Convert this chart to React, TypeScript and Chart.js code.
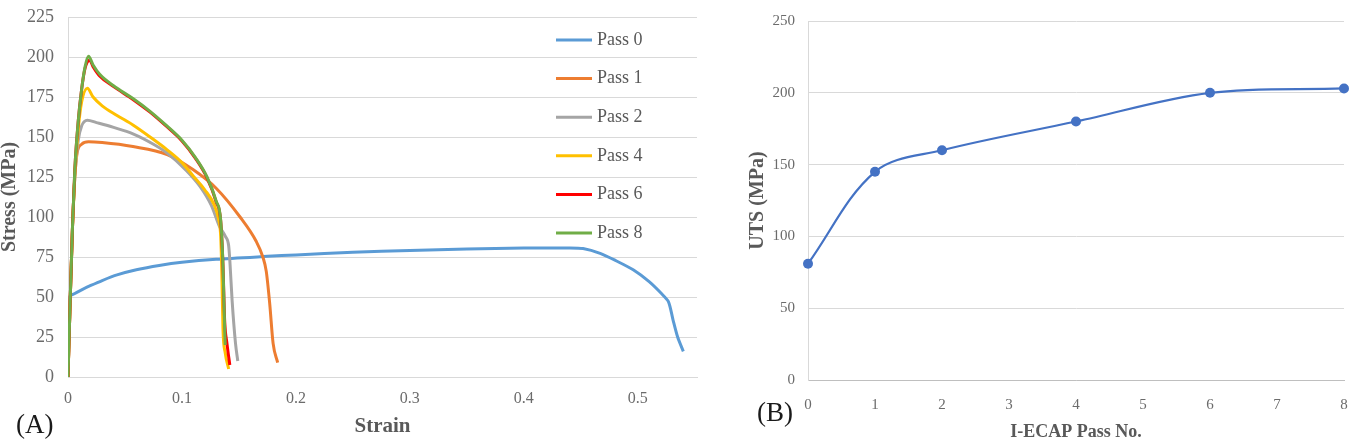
import React, { useEffect, useRef } from "react";
import { Chart, registerables } from "chart.js";

Chart.register(...registerables);

const FONT = "'Liberation Serif', 'Times New Roman', serif";
const TICK_COLOR = "#6b6b6b";
const TITLE_COLOR = "#595959";
const GRID_COLOR = "#D9D9D9";

// (A) Engineering stress-strain curves after each I-ECAP pass
const pass0Strain = [0, 0.0015, 0.006, 0.012, 0.02, 0.03, 0.043, 0.06, 0.08, 0.1, 0.13, 0.175, 0.2, 0.25, 0.3, 0.35, 0.4, 0.44, 0.452, 0.467, 0.48, 0.496, 0.51, 0.521, 0.527, 0.531, 0.535, 0.54];
const pass0Stress = [0, 50, 52.2, 54.5, 57.2, 60.3, 63.8, 67, 69.7, 71.7, 73.6, 75.4, 76.3, 77.9, 79.1, 80, 80.6, 80.7, 80.3, 77.3, 73, 67, 59.6, 52, 47, 35.6, 25, 16];

const pass1Strain = [0, 0.002, 0.004, 0.006, 0.008, 0.012, 0.018, 0.03, 0.057, 0.087, 0.11, 0.13, 0.151, 0.165, 0.171, 0.174, 0.177, 0.18, 0.184];
const pass1Stress = [0, 50, 95, 125, 140, 145.5, 147, 146.5, 144, 139, 129.5, 118, 100, 85, 75, 66, 46, 21, 9];

const pass2Strain = [0, 0.002, 0.004, 0.006, 0.009, 0.012, 0.017, 0.025, 0.04, 0.057, 0.075, 0.087, 0.104, 0.116, 0.126, 0.133, 0.138, 0.141, 0.142, 0.144, 0.147, 0.149];
const pass2Stress = [0, 50, 95, 125, 148, 157, 160.5, 159, 156, 152, 145.5, 140, 129, 119, 107, 94, 88, 82, 73, 48, 21, 10];

const pass4Strain = [0, 0.002, 0.004, 0.006, 0.009, 0.012, 0.017, 0.022, 0.03, 0.043, 0.057, 0.072, 0.087, 0.1, 0.11, 0.12, 0.128, 0.132, 0.134, 0.135, 0.136, 0.138, 0.141];
const pass4Stress = [0, 50, 95, 127, 155, 172, 180.5, 175, 169.5, 163.5, 157.5, 150, 142, 134, 125.5, 117, 108, 99, 88, 65, 30, 15, 5];

const pass6Strain = [0, 0.002, 0.004, 0.006, 0.009, 0.012, 0.015, 0.019, 0.022, 0.028, 0.04, 0.057, 0.072, 0.085, 0.1, 0.112, 0.122, 0.13, 0.134, 0.136, 0.1375, 0.1395, 0.142];
const pass6Stress = [0, 50, 95, 130, 160, 180, 193, 198, 194, 188, 181.5, 173.5, 165.5, 157.5, 147.5, 136.5, 124.5, 109.5, 97.5, 70, 35, 21, 7.5];

const pass8Strain = [0, 0.002, 0.004, 0.006, 0.009, 0.012, 0.015, 0.018, 0.022, 0.028, 0.04, 0.057, 0.072, 0.085, 0.1, 0.112, 0.122, 0.13, 0.134, 0.136, 0.1375, 0.138];
const pass8Stress = [0, 50, 95, 130, 160, 180, 194, 200.5, 195, 189, 182, 174, 166, 158, 148, 137, 125, 110, 98, 70, 30, 20];

const passLabels = ["Pass 0", "Pass 1", "Pass 2", "Pass 4", "Pass 6", "Pass 8"];
const passColors = ["#5B9BD5", "#ED7D31", "#A5A5A5", "#FFC000", "#FF0000", "#70AD47"];
const passStrains = [pass0Strain, pass1Strain, pass2Strain, pass4Strain, pass6Strain, pass8Strain];
const passStresses = [pass0Stress, pass1Stress, pass2Stress, pass4Stress, pass6Stress, pass8Stress];

const strainTicks = [0, 0.1, 0.2, 0.3, 0.4, 0.5];
const stressTicks = [0, 25, 50, 75, 100, 125, 150, 175, 200, 225];

// (B) Ultimate tensile strength versus number of passes
const ecapPasses = [0, 1, 2, 4, 6, 8];
const utsValues = [81, 145, 160, 180, 200, 203];
const passNoTicks = [0, 1, 2, 3, 4, 5, 6, 7, 8];
const utsTicks = [0, 50, 100, 150, 200, 250];

const fixedTicks = (values: number[]) => (scale: any) => {
  scale.ticks = values.map((v) => ({ value: v }));
};

// Pin an axis box to a fixed size and drop the label overhang padding,
// so the plot area sits exactly where the layout padding puts it.
const fixedBox = (size: number) => (scale: any) => {
  if (scale.isHorizontal()) scale.height = size;
  else scale.width = size;
  scale.paddingTop = 0;
  scale.paddingBottom = 0;
  scale.paddingLeft = 0;
  scale.paddingRight = 0;
};

const passLegend = {
  id: "passLegend",
  afterDraw(chart: any) {
    const { ctx, chartArea } = chart;
    const x0 = chartArea.right - 141;
    chart.data.datasets.forEach((ds: any, i: number) => {
      const y = chartArea.top + 23 + i * 38.6;
      ctx.save();
      ctx.strokeStyle = ds.borderColor;
      ctx.lineWidth = 3;
      ctx.beginPath();
      ctx.moveTo(x0, y);
      ctx.lineTo(x0 + 36, y);
      ctx.stroke();
      ctx.fillStyle = TITLE_COLOR;
      ctx.font = `18px ${FONT}`;
      ctx.textBaseline = "middle";
      ctx.textAlign = "left";
      ctx.fillText(ds.label, x0 + 41, y);
      ctx.restore();
    });
  },
};

const panelLabel = (text: string, x: number, y: number) => ({
  id: "panelLabel",
  afterDraw(chart: any) {
    const ctx = chart.ctx;
    ctx.save();
    ctx.fillStyle = "#1a1a1a";
    ctx.font = `27px ${FONT}`;
    ctx.textBaseline = "middle";
    ctx.textAlign = "left";
    ctx.fillText(text, x, y);
    ctx.restore();
  },
});

export default function App() {
  const leftRef = useRef<HTMLCanvasElement>(null);
  const rightRef = useRef<HTMLCanvasElement>(null);

  useEffect(() => {
    const left = new Chart(leftRef.current as HTMLCanvasElement, {
      type: "line",
      data: {
        datasets: passLabels.map((label, i) => ({
          label,
          data: passStrains[i].map((x, j) => ({ x, y: passStresses[i][j] })),
          borderColor: passColors[i],
          backgroundColor: passColors[i],
          borderWidth: 3,
          pointRadius: 0,
          // the annealed sample has a gentle work-hardening curve; the rest rise and fall steeply
          cubicInterpolationMode: i === 0 ? "default" : "monotone",
          tension: 0.25,
          fill: false,
          order: passLabels.length - i,
        })),
      },
      options: {
        animation: false,
        responsive: false,
        devicePixelRatio: 1,
        layout: { padding: { top: 17, right: 23, left: 0, bottom: 0 } },
        plugins: { legend: { display: false }, tooltip: { enabled: false } },
        scales: {
          x: {
            type: "linear",
            min: 0,
            max: 0.552,
            afterBuildTicks: fixedTicks(strainTicks),
            afterFit: fixedBox(64),
            grid: { display: false, drawTicks: false },
            border: { display: true, color: GRID_COLOR, width: 1 },
            ticks: {
              font: { family: FONT, size: 16 },
              color: TICK_COLOR,
              padding: 12,
              maxRotation: 0,
              autoSkip: false,
              callback: (v: any) => String(v),
            },
            title: {
              display: true,
              text: "Strain",
              color: TITLE_COLOR,
              font: { family: FONT, size: 21, weight: "bold", lineHeight: 1 },
              padding: { top: 0, bottom: 4 },
            },
          },
          y: {
            type: "linear",
            min: 0,
            max: 225,
            afterBuildTicks: fixedTicks(stressTicks),
            afterFit: fixedBox(68),
            grid: { color: GRID_COLOR, drawTicks: false },
            border: { display: true, color: GRID_COLOR, width: 1 },
            ticks: {
              font: { family: FONT, size: 18 },
              color: TICK_COLOR,
              padding: 14,
              autoSkip: false,
              callback: (v: any) => String(v),
            },
            title: {
              display: true,
              text: "Stress (MPa)",
              color: TITLE_COLOR,
              font: { family: FONT, size: 20, weight: "bold", lineHeight: 1 },
              padding: { top: 0, bottom: 0 },
            },
          },
        },
      },
      plugins: [passLegend, panelLabel("(A)", 16, 426)],
    } as any);

    const right = new Chart(rightRef.current as HTMLCanvasElement, {
      type: "line",
      data: {
        datasets: [
          {
            label: "UTS",
            data: ecapPasses.map((x, j) => ({ x, y: utsValues[j] })),
            borderColor: "#4472C4",
            backgroundColor: "#4472C4",
            borderWidth: 2.25,
            pointRadius: 5,
            pointBorderWidth: 0,
            pointBackgroundColor: "#4472C4",
            tension: 0.35,
            clip: false,
            fill: false,
          },
        ],
      },
      options: {
        animation: false,
        responsive: false,
        devicePixelRatio: 1,
        layout: { padding: { top: 21, right: 10, left: 0, bottom: 0 } },
        plugins: { legend: { display: false }, tooltip: { enabled: false } },
        scales: {
          x: {
            type: "linear",
            min: 0,
            max: 8,
            afterBuildTicks: fixedTicks(passNoTicks),
            afterFit: fixedBox(61),
            grid: { display: false, drawTicks: false },
            border: { display: true, color: "#BFBFBF", width: 1 },
            ticks: {
              font: { family: FONT, size: 15 },
              color: TICK_COLOR,
              padding: 16,
              maxRotation: 0,
              autoSkip: false,
              callback: (v: any) => String(v),
            },
            title: {
              display: true,
              text: "I-ECAP Pass No.",
              color: TITLE_COLOR,
              font: { family: FONT, size: 18, weight: "bold", lineHeight: 1 },
              padding: { top: 0, bottom: 0 },
            },
          },
          y: {
            type: "linear",
            min: 0,
            max: 250,
            afterBuildTicks: fixedTicks(utsTicks),
            afterFit: fixedBox(73),
            grid: { color: GRID_COLOR, drawTicks: false },
            border: { display: true, color: GRID_COLOR, width: 1 },
            ticks: {
              font: { family: FONT, size: 15 },
              color: TICK_COLOR,
              padding: 13,
              autoSkip: false,
              callback: (v: any) => String(v),
            },
            title: {
              display: true,
              text: "UTS (MPa)",
              color: TITLE_COLOR,
              font: { family: FONT, size: 20, weight: "bold", lineHeight: 1 },
              padding: { top: 13, bottom: 0 },
            },
          },
        },
      },
      plugins: [panelLabel("(B)", 22, 414)],
    } as any);

    return () => {
      left.destroy();
      right.destroy();
    };
  }, []);

  return (
    <div style={{ position: "absolute", left: 0, top: 0, width: 1354, height: 441, background: "#ffffff" }}>
      <canvas
        ref={leftRef}
        width={720}
        height={441}
        style={{ position: "absolute", left: 0, top: 0, width: 720, height: 441 }}
      />
      <canvas
        ref={rightRef}
        width={619}
        height={441}
        style={{ position: "absolute", left: 735, top: 0, width: 619, height: 441 }}
      />
    </div>
  );
}
